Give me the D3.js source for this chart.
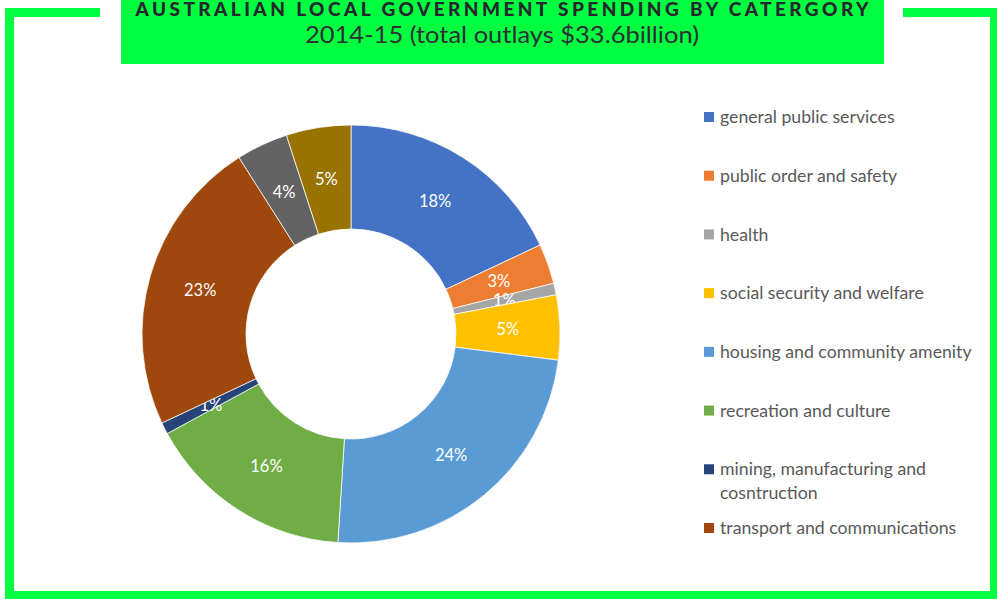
<!DOCTYPE html>
<html>
<head>
<meta charset="utf-8">
<script src="https://cdn.jsdelivr.net/npm/d3@7"></script>
<style>
  body { margin: 0; background: #fff; }
  svg { display: block; }
</style>
</head>
<body>
<div id="chart"></div>
<script>
// Spending categories, clockwise from 12 o'clock
var categories = [
  'general public services',
  'public order and safety',
  'health',
  'social security and welfare',
  'housing and community amenity',
  'recreation and culture',
  'mining, manufacturing and\ncosntruction',
  'transport and communications',
  'economic affairs',
  'other purposes'
]

// Share of total outlays (%)
var shares = [18, 3.1, 0.9, 5, 24, 16.1, 0.9, 23, 4, 5]

var sliceColours = ['#4472c4', '#ed7d31', '#a5a5a5', '#ffc000', '#5b9bd5',
  '#70ad47', '#264478', '#9e480e', '#636363', '#997300']

// Only the first eight made it into the legend
var legendCount = 8

var titleText = 'AUSTRALIAN LOCAL GOVERNMENT SPENDING BY CATERGORY'
var subtitleText = '2014-15 (total outlays $33.6billion)'

var width = 997
var height = 599
var green = '#00ff40'

var svg = d3.select('#chart').append('svg')
  .attr('width', width)
  .attr('height', height)

// Green frame round the whole chart
svg.append('rect')
  .attr('x', 9.5)
  .attr('y', 12.5)
  .attr('width', 985)
  .attr('height', 583)
  .style('fill', 'none')
  .style('stroke', green)
  .style('stroke-width', 9)

// Gap in the frame for the title box
svg.append('rect')
  .attr('x', 100)
  .attr('y', 0)
  .attr('width', 803)
  .attr('height', 20)
  .style('fill', '#fff')

svg.append('rect')
  .attr('x', 121)
  .attr('y', 0)
  .attr('width', 763)
  .attr('height', 64)
  .style('fill', green)

svg.append('text')
  .attr('x', 502)
  .attr('y', 15.5)
  .attr('text-anchor', 'middle')
  .attr('textLength', 733)
  .attr('lengthAdjust', 'spacing')
  .style('font-family', 'Lato, sans-serif')
  .style('font-weight', 900)
  .style('font-size', '19px')
  .style('fill', '#26262e')
  .text(titleText)

svg.append('text')
  .attr('x', 502)
  .attr('y', 43)
  .attr('text-anchor', 'middle')
  .attr('textLength', 394)
  .attr('lengthAdjust', 'spacingAndGlyphs')
  .style('font-family', 'Lato, sans-serif')
  .style('font-size', '23px')
  .style('fill', '#2e2e35')
  .text(subtitleText)

// Donut
var cx = 351
var cy = 334
var outerR = 209
var innerR = 105

var pie = d3.pie()
  .sort(null)
  .value(function (d) { return d })

var arc = d3.arc()
  .innerRadius(innerR)
  .outerRadius(outerR)

var labelArc = d3.arc()
  .innerRadius((innerR + outerR) / 2)
  .outerRadius((innerR + outerR) / 2)

var donut = svg.append('g')
  .attr('transform', 'translate(' + cx + ',' + cy + ')')

var slices = donut.selectAll('.slice')
  .data(pie(shares))
  .enter().append('g')
  .attr('class', 'slice')

slices.append('path')
  .attr('d', arc)
  .style('fill', function (d, i) { return sliceColours[i] })
  .style('stroke', '#fff')
  .style('stroke-width', 0.75)

slices.append('text')
  .attr('transform', function (d) { return 'translate(' + labelArc.centroid(d) + ')' })
  .attr('dy', '0.35em')
  .attr('text-anchor', 'middle')
  .style('font-family', 'Lato, sans-serif')
  .style('font-size', '16.5px')
  .style('fill', '#fff')
  .text(function (d) { return Math.round(d.data) + '%' })

// Legend
var legendY = d3.scaleLinear()
  .domain([0, legendCount - 1])
  .range([117, 528])

var legend = svg.append('g')
  .attr('class', 'legend')

var items = legend.selectAll('.item')
  .data(categories.slice(0, legendCount))
  .enter().append('g')
  .attr('class', 'item')
  .attr('transform', function (d, i) { return 'translate(704,' + legendY(i) + ')' })

items.append('rect')
  .attr('x', 0)
  .attr('y', -5)
  .attr('width', 10)
  .attr('height', 10)
  .style('fill', function (d, i) { return sliceColours[i] })

items.append('text')
  .attr('x', 16)
  .attr('y', 0)
  .style('font-family', 'Lato, sans-serif')
  .style('font-size', '17.7px')
  .style('fill', '#595959')
  .each(function (d) {
    var t = d3.select(this)
    d.split('\n').forEach(function (line, k) {
      t.append('tspan')
        .attr('x', 16)
        .attr('dy', k === 0 ? '0.35em' : '1.35em')
        .text(line)
    })
  })
</script>
</body>
</html>
